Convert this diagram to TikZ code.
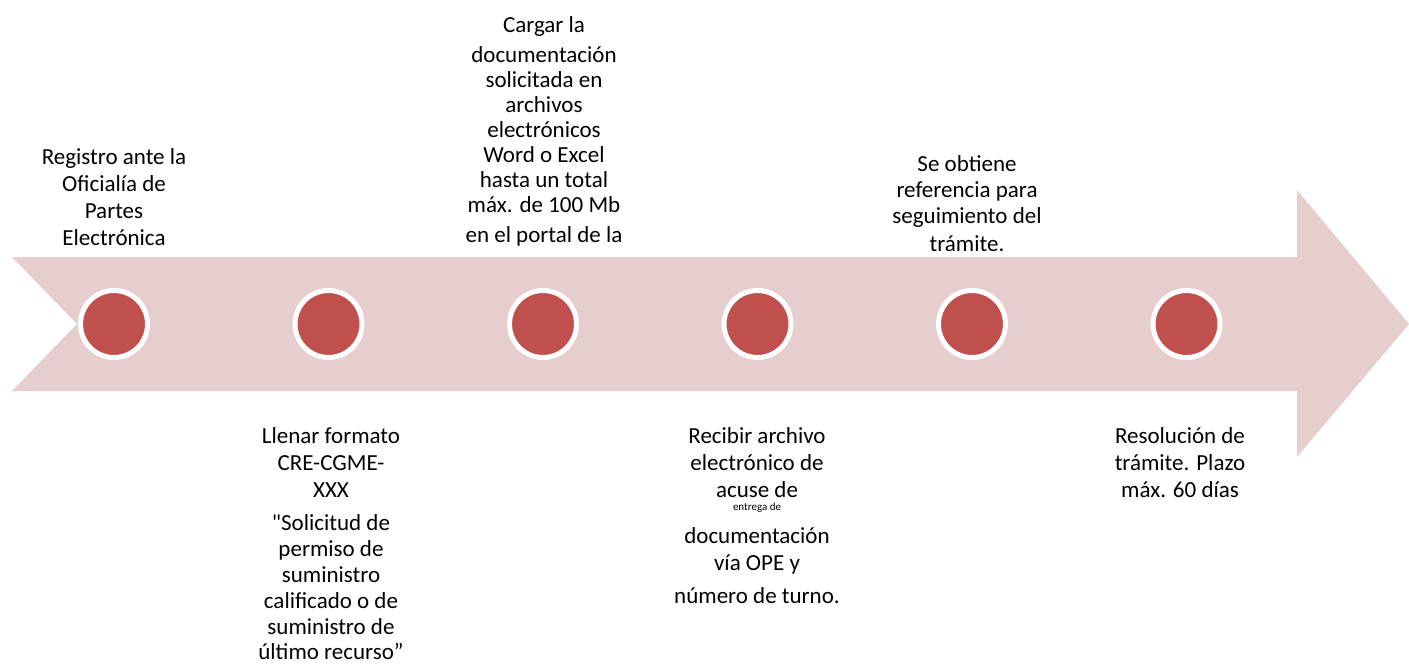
\documentclass[tikz,border=0pt]{standalone}
\usepackage{fontspec}
\setmainfont{Carlito}[Ligatures=TeXOff]
\definecolor{arrowpink}{RGB}{230,206,207}
\definecolor{dotred}{RGB}{192,80,77}

\begin{document}
\begin{tikzpicture}[x=1pt, y=-1pt, font=\fontsize{23}{26}\selectfont,
		dot/.style={circle, fill=dotred, draw=white, line width=5pt, minimum size=67pt, inner sep=0pt},
		steptext/.style={align=center, inner sep=0pt, anchor=north}]
		\useasboundingbox (0,0) rectangle (1409,666);
		\fill[arrowpink] (12,257) -- (1297,257) -- (1297,190) -- (1409,324)
		-- (1297,457) -- (1297,391) -- (12,391) -- (77,324) -- cycle;

		\node[dot] (c1) at (114, 324) {};
		\node[dot] (c2) at (328.5, 324) {};
		\node[dot] (c3) at (543, 324) {};
		\node[dot] (c4) at (757.5, 324) {};
		\node[dot] (c5) at (972, 324) {};
		\node[dot] (c6) at (1186.5, 324) {};

		\node[steptext] (t1) at (114, 148) {Registro ante la\\[1pt] Oficialía de\\[1pt] Partes\\[1pt] Electrónica};
		\node[steptext] (t2) at (331, 427) {Llenar formato\\[1pt] CRE-CGME-\\[1pt] XXX\\[7pt]
			"Solicitud de\\ permiso de\\ suministro\\ calificado o de\\ suministro de\\[-1pt] último recurso”};
		\node[steptext, font=\fontsize{23}{25}\selectfont] (t3) at (544, 16) {Cargar la\\[5pt] documentación\\ solicitada en\\
			archivos\\ electrónicos\\ Word o Excel\\ hasta un total\\ máx. de 100 Mb\\[5pt] en el portal de la};
		\node[steptext] (t4) at (757, 427) {Recibir archivo\\[1pt] electrónico de\\[1pt] acuse de\\[-13pt]
			{\fontsize{11}{12}\selectfont entrega de}\\[7pt] documentación\\[1pt] vía OPE y\\[7pt] número de turno.};
		\node[steptext] (t5) at (967, 155) {Se obtiene\\ referencia para\\ seguimiento del\\[2pt] trámite.};
		\node[steptext] (t6) at (1180, 427) {Resolución de\\[1pt] trámite. Plazo\\[1pt] máx. 60 días};
	\end{tikzpicture}
\end{document}
